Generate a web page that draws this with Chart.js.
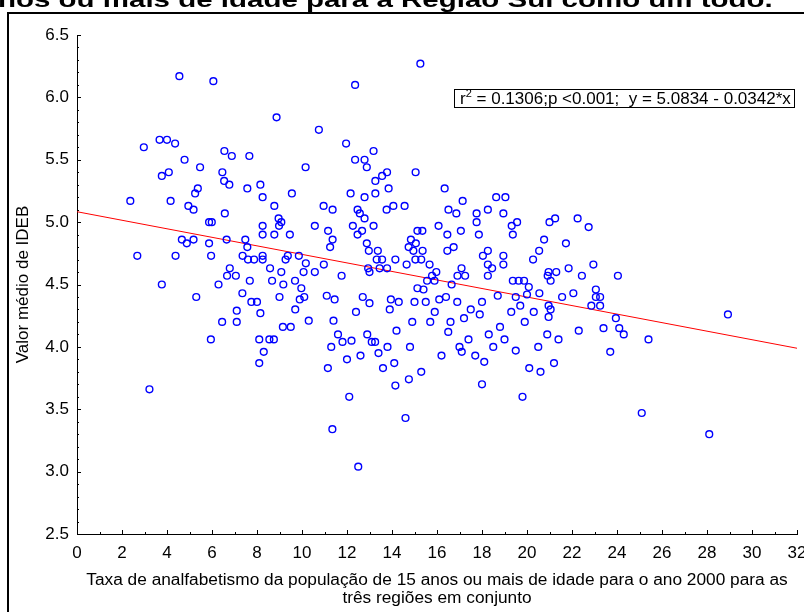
<!DOCTYPE html>
<html lang="pt-BR">
<head>
<meta charset="UTF-8">
<title>Valor médio de IDEB x Taxa de analfabetismo</title>
<script src="https://cdn.jsdelivr.net/npm/chart.js"></script>
<style>
  html, body { margin: 0; padding: 0; background: #fff; }
  #quadro { position: relative; width: 804px; height: 612px; overflow: hidden; }
  #titulo { position: absolute; left: -2px; top: -13px; line-height: 22px; font: bold 22px "Liberation Sans", Arial, sans-serif; white-space: nowrap; transform: scaleX(1.34); transform-origin: 0 0; z-index: 3; }
  #moldura { position: absolute; left: 7px; top: 12px; width: 900px; height: 700px; border-left: 2px solid #000; border-top: 2px solid #000; z-index: 2; }
  #equacao { position: absolute; left: 454px; top: 89px; width: 341px; height: 19px; box-sizing: border-box; border: 1px solid #000; background: #fff; z-index: 2; font: 17px "Liberation Sans", Arial, sans-serif; line-height: 17px; white-space: nowrap; padding-left: 5px; }
  #equacao sup { font-size: 11px; line-height: 0; vertical-align: 7px; }
  canvas { position: absolute; left: 0; top: 0; z-index: 1; }
</style>
</head>
<body>
<div id="quadro">
  <div id="titulo">nos ou mais de idade para a Região Sul como um todo.</div>
  <div id="moldura"></div>
  <canvas id="grafico" width="804" height="612"></canvas>
  <div id="equacao">r<sup>2</sup> = 0.1306;p &lt;0.001;&nbsp; y = 5.0834 - 0.0342*x</div>
</div>

<script>
// eixo X: taxa de analfabetismo (%), eixo Y: valor médio do IDEB
const ticksX = [0, 2, 4, 6, 8, 10, 12, 14, 16, 18, 20, 22, 24, 26, 28, 30, 32];
const ticksY = [2.5, 3.0, 3.5, 4.0, 4.5, 5.0, 5.5, 6.0, 6.5];

// reta ajustada: y = 5.0834 - 0.0342*x
const intercepto = 5.0834;
const inclinacao = -0.0342;

// pontos [taxa, ideb]
const pontos = [
  [4.55,6.17],[6.06,6.13],[8.87,5.84],[10.75,5.74],[2.97,5.60],[3.67,5.66],[4.0,5.66],[4.36,5.63],[4.78,5.50],[5.47,5.44],
  [6.55,5.57],[6.88,5.53],[7.66,5.53],[10.16,5.44],[3.77,5.37],[4.08,5.40],[6.46,5.40],[6.54,5.33],[6.77,5.30],[8.15,5.30],
  [7.57,5.27],[8.25,5.20],[9.55,5.23],[8.77,5.13],[5.37,5.27],[5.25,5.23],[2.37,5.17],[4.16,5.17],[4.95,5.13],[5.18,5.10],
  [8.96,5.03],[9.08,5.0],[8.98,4.97],[8.25,4.97],[8.25,4.90],[8.77,4.90],[9.46,4.90],[10.57,4.97],[6.57,5.07],[5.87,5.0],
  [5.99,5.0],[4.66,4.86],[4.88,4.83],[5.18,4.86],[5.87,4.83],[6.65,4.86],[7.48,4.86],[7.57,4.80],[2.68,4.73],[4.38,4.73],
  [5.96,4.73],[7.36,4.73],[7.60,4.70],[7.87,4.70],[8.25,4.73],[8.25,4.70],[9.37,4.73],[9.27,4.70],[9.86,4.73],[10.17,4.67],
  [8.58,4.63],[6.79,4.63],[6.67,4.57],[7.06,4.57],[7.68,4.53],[8.67,4.53],[9.08,4.60],[9.69,4.53],[10.07,4.60],[10.57,4.60],
  [3.77,4.50],[6.29,4.50],[9.17,4.50],[9.97,4.47],[3.22,3.66],
  [15.26,6.27],[12.36,6.10],[11.96,5.63],[12.36,5.50],[12.78,5.50],[13.18,5.57],[12.88,5.44],[15.05,5.40],[13.56,5.37],[13.78,5.40],
  [13.26,5.33],[13.85,5.27],[16.34,5.27],[12.16,5.23],[12.78,5.20],[13.26,5.23],[17.14,5.17],[18.63,5.20],[19.04,5.20],[10.96,5.13],
  [11.36,5.10],[12.47,5.10],[13.76,5.10],[14.06,5.13],[14.56,5.13],[12.57,5.07],[12.78,5.03],[16.51,5.10],[16.86,5.07],[17.76,5.07],
  [18.26,5.10],[18.95,5.07],[17.76,5.0],[11.16,4.93],[11.36,4.86],[11.25,4.80],[12.26,4.97],[12.67,4.93],[12.47,4.90],[13.18,4.97],
  [12.88,4.83],[12.97,4.77],[13.37,4.77],[13.32,4.70],[13.56,4.70],[14.15,4.70],[14.65,4.66],[15.13,4.93],[15.35,4.93],[14.84,4.86],
  [15.06,4.83],[14.74,4.80],[14.95,4.77],[15.36,4.77],[15.04,4.70],[15.30,4.70],[15.67,4.66],[16.07,4.97],[16.46,4.90],[17.06,4.93],
  [17.86,4.90],[16.46,4.77],[16.74,4.80],[15.97,4.60],[15.78,4.57],[15.56,4.53],[15.89,4.53],[18.26,4.77],[18.04,4.73],[18.26,4.66],
  [18.45,4.63],[18.26,4.57],[18.95,4.73],[18.95,4.66],[19.32,4.97],[19.56,5.0],[19.37,4.90],[20.76,4.86],[21.0,5.0],[21.25,5.03],
  [20.54,4.77],[20.27,4.70],[20.96,4.60],[21.3,4.60],[20.92,4.57],[19.37,4.53],[19.63,4.53],[19.87,4.53],[20.08,4.48],[17.09,4.63],
  [16.91,4.57],[17.25,4.57],[16.65,4.50],[11.76,4.57],[10.97,4.66],[12.94,4.63],[13.0,4.60],[13.45,4.63],[13.78,4.63],[15.13,4.47],
  [22.25,5.03],[22.74,4.96],[21.73,4.83],[22.95,4.66],[21.85,4.63],[21.05,4.53],[22.44,4.57],[24.04,4.57],[20.55,4.43],[22.06,4.43],
  [21.56,4.40],[23.06,4.46],[23.06,4.40],[23.25,4.40],[22.86,4.33],[23.25,4.33],[20.96,4.33],[21.05,4.30],[20.96,4.24],[23.95,4.23],
  [28.93,4.26],
  [5.3,4.40],[5.95,4.06],[6.45,4.20],[7.1,4.20],[7.1,4.29],[7.35,4.43],[7.75,4.36],[8.0,4.36],[8.15,4.27],[8.1,4.06],
  [8.3,3.96],[8.1,3.87],[8.55,4.06],[8.75,4.06],[9.0,4.40],[9.15,4.16],[9.5,4.16],[9.7,4.30],[9.9,4.38],[10.1,4.40],
  [10.3,4.21],[11.1,4.41],[11.15,3.83],[11.3,4.0],[11.35,3.34],[11.4,4.21],[11.45,4.38],[11.6,4.10],[11.8,4.04],[12.0,3.90],
  [12.1,3.60],[12.2,4.05],[12.4,4.28],[12.5,3.04],[12.6,3.93],[12.7,4.40],[12.9,4.10],[13.0,4.35],[13.1,4.04],[13.25,4.04],
  [13.4,3.95],[13.6,3.83],[13.8,4.0],[13.9,4.30],[13.95,4.38],[14.1,3.87],[14.15,3.69],[14.2,4.13],[14.3,4.36],[14.6,3.43],
  [14.75,3.74],[14.8,4.0],[14.9,4.20],[15.0,4.36],[15.3,3.8],[15.4,4.46],[15.5,4.36],[15.7,4.20],[15.9,4.28],[16.1,4.38],
  [16.2,3.93],[16.4,4.40],[16.5,4.12],[16.6,4.20],[16.9,4.36],[17.0,4.0],[17.1,3.96],[17.2,4.23],[17.4,4.06],[17.5,4.30],
  [17.7,3.93],[17.9,4.26],[18.0,4.36],[18.0,3.7],[18.1,3.88],[18.3,4.10],[18.5,4.0],[18.7,4.41],[18.8,4.16],[19.0,4.06],
  [19.3,4.28],[19.5,3.97],[19.5,4.40],[19.7,4.33],[19.8,3.6],[19.9,4.2],[20.0,4.42],[20.1,3.83],[20.3,4.28],[20.5,4.0],
  [20.6,3.8],[20.9,4.1],[21.2,3.87],[21.4,4.06],[24.1,4.15],[24.3,4.1],[25.1,3.47],[25.4,4.06],[28.1,3.30],[23.4,4.15],
  [23.7,3.96],[22.3,4.13]
];

const fonte = '"Liberation Sans", Arial, sans-serif';

// marcas de escala para dentro, com subdivisões
const marcasInternas = {
  id: 'marcasInternas',
  afterDraw(chart) {
    const { ctx, scales: { x, y } } = chart;
    ctx.save();
    ctx.strokeStyle = '#000';
    ctx.lineWidth = 1;
    ctx.beginPath();
    for (let v = ticksX[0]; v <= ticksX[ticksX.length - 1]; v += 1) {
      const px = Math.round(x.getPixelForValue(v)) + 0.5;
      const tam = v % 2 === 0 ? 4 : 2;
      ctx.moveTo(px, y.bottom);
      ctx.lineTo(px, y.bottom - tam);
    }
    for (let i = 25; i <= 65; i++) {
      const py = Math.round(y.getPixelForValue(i / 10)) + 0.5;
      const tam = i % 5 === 0 ? 4 : 2;
      ctx.moveTo(x.left, py);
      ctx.lineTo(x.left + tam, py);
    }
    ctx.stroke();
    ctx.restore();
  }
};

new Chart(document.getElementById('grafico'), {
  type: 'scatter',
  data: {
    datasets: [
      {
        label: 'Municípios',
        data: pontos.map(p => ({ x: p[0], y: p[1] })),
        pointStyle: 'circle',
        pointRadius: 3.4,
        pointBorderWidth: 1.4,
        pointBorderColor: '#0000ff',
        pointBackgroundColor: 'rgba(0,0,0,0)'
      },
      {
        label: 'Reta ajustada',
        type: 'line',
        data: [
          { x: ticksX[0], y: intercepto + inclinacao * ticksX[0] },
          { x: ticksX[ticksX.length - 1], y: intercepto + inclinacao * ticksX[ticksX.length - 1] }
        ],
        borderColor: '#ff0000',
        borderWidth: 1,
        pointRadius: 0,
        fill: false
      }
    ]
  },
  options: {
    responsive: false,
    animation: false,
    layout: { padding: { left: 0, right: 7, top: 35, bottom: 0 } },
    plugins: { legend: { display: false }, tooltip: { enabled: false } },
    scales: {
      x: {
        type: 'linear',
        min: 0, max: 32,
        grid: { display: false, drawTicks: false },
        border: { display: true, color: '#000', width: 1 },
        afterBuildTicks: s => { s.ticks = ticksX.map(v => ({ value: v })); },
        ticks: { color: '#000', padding: 9, maxRotation: 0, font: { family: fonte, size: 17 } },
        title: {
          display: true,
          text: ['Taxa de analfabetismo da população de 15 anos ou mais de idade para o ano 2000 para as', 'três regiões em conjunto'],
          color: '#000',
          font: { family: fonte, size: 17.3, lineHeight: 18 / 17.3 },
          padding: { top: 0, bottom: 5 }
        },
        afterFit: s => { s.height = 78; s.paddingLeft = 0; s.paddingRight = 0; }
      },
      y: {
        type: 'linear',
        min: 2.5, max: 6.5,
        grid: { display: false, drawTicks: false },
        border: { display: true, color: '#000', width: 1 },
        afterBuildTicks: s => { s.ticks = ticksY.map(v => ({ value: v })); },
        ticks: { color: '#000', padding: 8, callback: v => v.toFixed(1), font: { family: fonte, size: 17 } },
        title: {
          display: true,
          text: 'Valor médio de IDEB',
          color: '#000',
          font: { family: fonte, size: 17, lineHeight: 18 / 17 },
          padding: { top: 14, bottom: 0 }
        },
        afterFit: s => { s.width = 77; s.paddingTop = 0; s.paddingBottom = 0; }
      }
    }
  },
  plugins: [marcasInternas]
});
</script>
</body>
</html>
